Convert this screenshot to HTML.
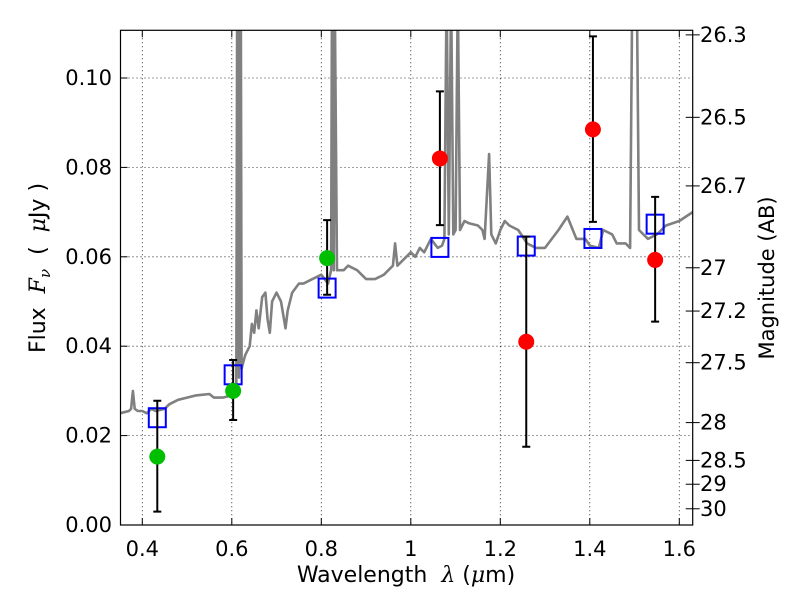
<!DOCTYPE html>
<html><head><meta charset="utf-8"><style>
body{margin:0;background:#fff;}
svg text{font-family:"DejaVu Sans","Liberation Sans",sans-serif;fill:#000;}
.m{font-family:"DejaVu Serif","Liberation Serif",serif;font-style:italic;}
</style></head><body>
<svg id="chart" width="800" height="600" xmlns="http://www.w3.org/2000/svg">
<rect width="800" height="600" fill="#fff"/>
<defs><clipPath id="pc"><rect x="120.5" y="30.3" width="572.2" height="494.7"/></clipPath></defs>
<g id="grid"></g>
<g id="spec" clip-path="url(#pc)"></g>
<g id="marks"></g>
<rect x="120.5" y="30.3" width="572.2" height="494.7" fill="none" stroke="#000" stroke-width="1.2"/>
<g id="axes"></g>
<text x="406" y="582" font-size="22" text-anchor="middle">Wavelength&#160;&#160;<tspan class="m">λ</tspan> (<tspan class="m">μ</tspan>m)</text>
<text transform="translate(45,268) rotate(-90)" font-size="22" text-anchor="middle">Flux&#160;&#160;<tspan class="m">F</tspan><tspan class="m" font-size="15" dy="5">ν</tspan><tspan dy="-5">&#160;&#160;(&#160;&#160;</tspan><tspan class="m">μ</tspan>Jy )</text>
<text transform="translate(774,278) rotate(-90)" font-size="21" text-anchor="middle">Magnitude (AB)</text>
</svg>
<script>
const xTicks=[0.4,0.6,0.8,1.0,1.2,1.4,1.6];
const xTickLabels=["0.4","0.6","0.8","1","1.2","1.4","1.6"];
const yTicks=[0,0.02,0.04,0.06,0.08,0.10];
const yTickLabels=["0.00","0.02","0.04","0.06","0.08","0.10"];
const magTicks=[26.3,26.5,26.7,27,27.2,27.5,28,28.5,29,30];
const magLabels=["26.3","26.5","26.7","27","27.2","27.5","28","28.5","29","30"];
const greenX=[0.4335,0.603,0.813];
const greenY=[0.0153,0.030,0.0597];
const greenLo=[0.003,0.0235,0.0515];
const greenHi=[0.0278,0.0369,0.0682];
const redX=[1.065,1.258,1.407,1.546];
const redY=[0.082,0.041,0.0885,0.0593];
const redLo=[0.0671,0.0175,0.0678,0.0455];
const redHi=[0.097,0.0645,0.1093,0.0734];
const modelX=[0.4335,0.603,0.813,1.065,1.258,1.407,1.546];
const modelY=[0.024,0.0336,0.053,0.0621,0.0624,0.0641,0.0673];
const specW=[0.35,0.37,0.375,0.379,0.383,0.39,0.40,0.41,0.42,0.43,0.45,0.46,0.48,0.50,0.52,0.55,0.56,0.58,0.60,0.605,0.61,0.612,0.614,0.616,0.62,0.622,0.63,0.64,0.645,0.65,0.655,0.66,0.668,0.675,0.68,0.685,0.69,0.70,0.71,0.72,0.725,0.735,0.75,0.76,0.78,0.80,0.815,0.822,0.824,0.828,0.83,0.835,0.85,0.86,0.88,0.90,0.92,0.94,0.96,0.965,0.97,0.98,1.0,1.01,1.02,1.03,1.045,1.06,1.07,1.075,1.08,1.085,1.09,1.095,1.10,1.105,1.11,1.12,1.13,1.15,1.16,1.165,1.175,1.18,1.19,1.20,1.21,1.22,1.24,1.26,1.28,1.30,1.33,1.35,1.37,1.39,1.40,1.42,1.43,1.45,1.46,1.48,1.49,1.495,1.505,1.51,1.53,1.55,1.57,1.60,1.63];
const specF=[0.025,0.0255,0.026,0.030,0.026,0.0255,0.0255,0.025,0.026,0.0255,0.026,0.027,0.028,0.0285,0.029,0.0293,0.0285,0.0285,0.029,0.0295,0.031,0.12,0.12,0.033,0.12,0.035,0.038,0.040,0.045,0.043,0.048,0.044,0.051,0.052,0.046,0.043,0.050,0.052,0.050,0.044,0.048,0.052,0.054,0.054,0.055,0.056,0.054,0.057,0.12,0.057,0.12,0.057,0.057,0.058,0.057,0.055,0.055,0.056,0.058,0.063,0.058,0.059,0.061,0.060,0.062,0.061,0.064,0.062,0.0625,0.064,0.12,0.065,0.12,0.065,0.066,0.12,0.066,0.068,0.0675,0.067,0.066,0.064,0.083,0.065,0.063,0.066,0.068,0.067,0.066,0.063,0.062,0.062,0.066,0.069,0.064,0.064,0.0625,0.062,0.066,0.065,0.063,0.063,0.062,0.12,0.12,0.066,0.064,0.065,0.067,0.068,0.070];

const L=120.5,R=692.7,T=30.3,B=525;
const X=v=>142.3+(v-0.4)*447.5;
const Y=v=>B-v*4470;
const magToFlux=m=>Math.pow(10,(23.9-m)/2.5);
const NS="http://www.w3.org/2000/svg";
function mk(parent,tag,attrs){const e=document.createElementNS(NS,tag);for(const k in attrs)e.setAttribute(k,attrs[k]);document.getElementById(parent).appendChild(e);return e;}

xTicks.forEach((t,i)=>{
  const g=mk('grid','line',{x1:X(t),x2:X(t),y1:T,y2:B,stroke:'#000','stroke-width':0.8,'stroke-dasharray':'1,3'});
  
  
  const tk=mk('axes','line',{x1:X(t),x2:X(t),y1:B,y2:B-7,stroke:'#000','stroke-width':1});
  
  
  const tk2=mk('axes','line',{x1:X(t),x2:X(t),y1:T,y2:T+7,stroke:'#000','stroke-width':1});
  
  
  const tx=mk('axes','text',{x:X(t),y:556,'font-size':21,'text-anchor':'middle'});
  tx.textContent=xTickLabels[i];
  
  
});
yTicks.forEach((t,i)=>{
  const g=mk('grid','line',{x1:L,x2:R,y1:Y(t),y2:Y(t),stroke:'#000','stroke-width':0.8,'stroke-dasharray':'1,3'});
  
  
  const tk=mk('axes','line',{x1:L,x2:L+7,y1:Y(t),y2:Y(t),stroke:'#000','stroke-width':1});
  
  
  const tx=mk('axes','text',{x:112,y:Y(t)+7,'font-size':21,'text-anchor':'end'});
  tx.textContent=yTickLabels[i];
  
  
});
magTicks.forEach((m,i)=>{
  const y=Y(magToFlux(m));
  const tk=mk('axes','line',{x1:R-7,x2:R+7,y1:y,y2:y,stroke:'#000','stroke-width':1});
  
  
  const tx=mk('axes','text',{x:700,y:y+7,'font-size':21,'text-anchor':'start'});
  tx.textContent=magLabels[i];
  
  
});
const sp=mk('spec','polyline',{points:specW.map((w,i)=>X(w).toFixed(1)+','+Y(specF[i]).toFixed(1)).join(' '),fill:'none',stroke:'#808080','stroke-width':2.6,'stroke-linejoin':'round'});



function errbar(x,lo,hi){
  const l=mk('marks','path',{d:`M${X(x)},${Y(lo)}V${Y(hi)}M${X(x)-4},${Y(lo)}h8M${X(x)-4},${Y(hi)}h8`,stroke:'#000','stroke-width':2,fill:'none'});
  
  
}
modelX.forEach((x,i)=>{
  const r=mk('marks','rect',{x:X(x)-8.5,y:Y(modelY[i])-9.5,width:17,height:19,fill:'none',stroke:'#0000ff','stroke-width':2});
  
  
});
greenX.forEach((x,i)=>{
  errbar(x,greenLo[i],greenHi[i]);
  const c=mk('marks','circle',{cx:X(x),cy:Y(greenY[i]),r:8,fill:'#00bf00'});
  
  
});
redX.forEach((x,i)=>{
  errbar(x,redLo[i],redHi[i]);
  const c=mk('marks','circle',{cx:X(x),cy:Y(redY[i]),r:8,fill:'#ff0000'});
  
  
});
</script>
</body></html>
